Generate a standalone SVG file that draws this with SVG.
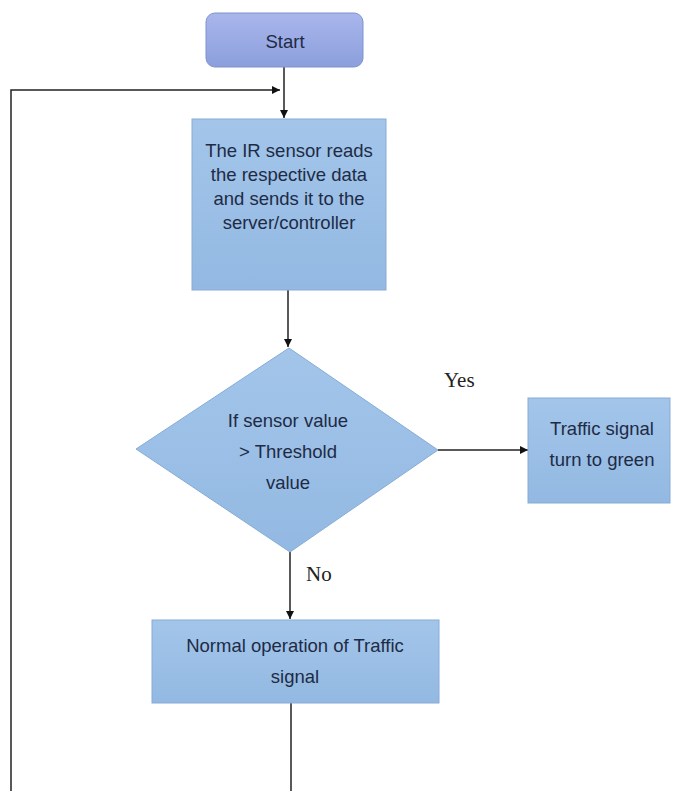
<svg xmlns="http://www.w3.org/2000/svg" width="673" height="791" viewBox="0 0 673 791">
  <defs>
    <linearGradient id="startFill" x1="0" y1="0" x2="0" y2="1">
      <stop offset="0" stop-color="#a9b6ec"/>
      <stop offset="1" stop-color="#8c9fdc"/>
    </linearGradient>
    <linearGradient id="boxFill" x1="0" y1="0" x2="0" y2="1">
      <stop offset="0" stop-color="#a3c5ea"/>
      <stop offset="1" stop-color="#93b9e2"/>
    </linearGradient>
    <marker id="arrow" viewBox="0 0 10 10" refX="10" refY="5" markerWidth="8" markerHeight="8" markerUnits="userSpaceOnUse" orient="auto">
      <path d="M0,0 L10,5 L0,10 z" fill="#111"/>
    </marker>
    <style>
      .box { fill: url(#boxFill); stroke: #86acd6; stroke-width: 1; }
      .label { font-family: "Liberation Sans", Arial, sans-serif; font-size: 18.5px; fill: #1e2b45; text-anchor: middle; }
      .serif { font-family: "Liberation Serif", "Times New Roman", serif; font-size: 21px; fill: #222; }
      .conn { fill: none; stroke: #222; stroke-width: 1.5; }
    </style>
  </defs>

  <rect width="673" height="791" fill="#ffffff"/>

  <g id="connectors">
    <line class="conn" x1="284" y1="67" x2="284" y2="118" marker-end="url(#arrow)"/>
    <polyline class="conn" points="11,791 11,90 280,90" marker-end="url(#arrow)"/>
    <line class="conn" x1="288" y1="290" x2="288" y2="347" marker-end="url(#arrow)"/>
    <line class="conn" x1="438" y1="450" x2="528" y2="450" marker-end="url(#arrow)"/>
    <line class="conn" x1="290" y1="552" x2="290" y2="619" marker-end="url(#arrow)"/>
    <line class="conn" x1="291" y1="703" x2="291" y2="791"/>
    <text class="serif" x="444" y="387">Yes</text>
    <text class="serif" x="306" y="581">No</text>
  </g>

  <g id="start">
    <rect x="206" y="13" width="157" height="54" rx="9" fill="url(#startFill)" stroke="#7f93cf" stroke-width="1"/>
    <text class="label" x="285" y="48">Start</text>
  </g>

  <g id="read-sensor">
    <rect class="box" x="192" y="119" width="194" height="171"/>
    <text class="label" x="289" y="157">The IR sensor reads</text>
    <text class="label" x="289" y="181">the respective data</text>
    <text class="label" x="289" y="205">and sends it to the</text>
    <text class="label" x="289" y="229">server/controller</text>
  </g>

  <g id="threshold-check">
    <polygon class="box" points="289,348 438,450 290,552 136,449"/>
    <text class="label" x="288" y="427">If sensor value</text>
    <text class="label" x="288" y="458">&gt; Threshold</text>
    <text class="label" x="288" y="489">value</text>
  </g>

  <g id="green-signal">
    <rect class="box" x="528" y="398" width="142" height="105"/>
    <text class="label" x="602" y="435">Traffic signal</text>
    <text class="label" x="602" y="466">turn to green</text>
  </g>

  <g id="normal-operation">
    <rect class="box" x="152" y="620" width="287" height="83"/>
    <text class="label" x="295" y="652">Normal operation of Traffic</text>
    <text class="label" x="295" y="683">signal</text>
  </g>
</svg>
